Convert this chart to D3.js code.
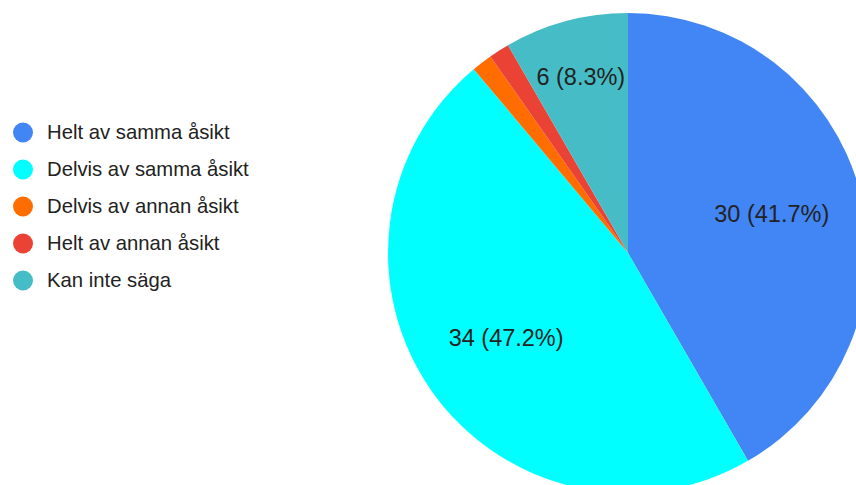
<!DOCTYPE html>
<html>
<head>
<meta charset="utf-8">
<script src="https://cdn.jsdelivr.net/npm/d3@7"></script>
<style>
  body { margin: 0; background: #fff; }
  svg { display: block; font-family: "Liberation Sans", Arial, sans-serif; }
</style>
</head>
<body>
<svg id="chart" width="856" height="485"></svg>
<script>
const categories = ["Helt av samma åsikt", "Delvis av samma åsikt", "Delvis av annan åsikt", "Helt av annan åsikt", "Kan inte säga"];
const counts = [30, 34, 1, 1, 6];
const colors = ["#4285f4", "#00ffff", "#ff6d01", "#ea4335", "#46bdc6"];

const svg = d3.select("#chart");
const cx = 628, cy = 253, radius = 240;
const total = d3.sum(counts);

const data = categories.map((c, i) => ({ name: c, value: counts[i], color: colors[i] }));

const pie = d3.pie().sort(null).value(d => d.value);
const arc = d3.arc().innerRadius(0).outerRadius(radius);
const arcs = pie(data);

const g = svg.append("g").attr("transform", `translate(${cx},${cy})`);

g.selectAll("path")
    .data(arcs)
    .enter().append("path")
    .attr("fill", d => d.data.color)
    .attr("d", arc);

// labels only where the slice is big enough; narrow slices get theirs further out
g.selectAll("text")
    .data(arcs.filter(d => d.value / total > 0.05))
    .enter().append("text")
    .attr("transform", d => {
        const r = (d.endAngle - d.startAngle) < 0.8 ? radius * 0.76 : radius * 0.62;
        const a = (d.startAngle + d.endAngle) / 2;
        return `translate(${Math.sin(a) * r},${-Math.cos(a) * r})`;
    })
    .attr("text-anchor", "middle")
    .attr("dy", "0.33em")
    .attr("font-size", 23.5)
    .attr("fill", "#222")
    .text(d => `${d.value} (${(d.value / total * 100).toFixed(1)}%)`);

const legend = svg.append("g")
    .selectAll("g")
    .data(data)
    .enter().append("g")
    .attr("transform", (d, i) => `translate(23,${132.5 + i * 37})`);

legend.append("circle")
    .attr("r", 10)
    .attr("fill", d => d.color);

legend.append("text")
    .attr("x", 24)
    .attr("dy", "0.33em")
    .attr("font-size", 20.3)
    .attr("fill", "#222")
    .text(d => d.name);
</script>
</body>
</html>
